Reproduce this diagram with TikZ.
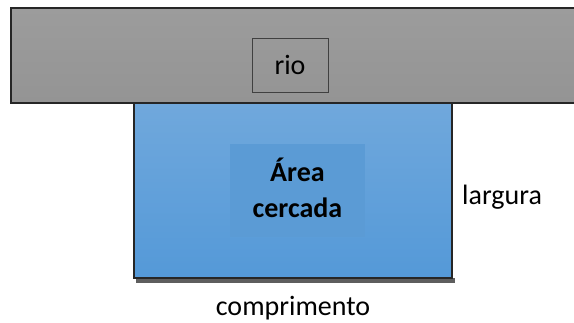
\documentclass[tikz,border=0pt]{standalone}
\usepackage{fontspec}
\setmainfont{Carlito}
\definecolor{riotop}{HTML}{9C9C9C}
\definecolor{riobot}{HTML}{949494}
\definecolor{bluetop}{HTML}{70A8DC}
\definecolor{bluebot}{HTML}{5499D8}
\definecolor{innerblue}{HTML}{5B9BD5}
\definecolor{shadowgray}{HTML}{5E5E5E}
\tikzset{
  lbl/.style={inner sep=0pt, font=\fontsize{28bp}{36bp}\selectfont, text=black},
  edge/.style={draw=black!85, line width=1.2bp}
}
\begin{document}
\begin{tikzpicture}[x=1bp,y=1bp]
\useasboundingbox (0,0) rectangle (574,322);
\begin{scope}
\clip (0,0) rectangle (574,322);
\shade[top color=riotop, bottom color=riobot] (11,314) rectangle (590,219);
\draw[edge] (11,314) rectangle (590,219);
\fill[shadowgray] (136,44) rectangle (455,39);
\shade[top color=bluetop, bottom color=bluebot] (134,219) rectangle (452,44);
\draw[edge] (134,219) rectangle (452,44);
\end{scope}
\node[draw=black!75, line width=0.9bp, minimum width=76bp, minimum height=54bp, inner sep=0pt] (riobox) at (290,257) {};
\node[lbl, anchor=base] (rio) at (290,248) {rio};
\node[fill=innerblue, minimum width=135bp, minimum height=93bp, inner sep=0pt] (inner) at (297.5,131.5) {};
\node[lbl, align=center, font=\fontsize{28bp}{36bp}\selectfont\bfseries] (area) at (297.5,134) {Área\\cercada};
\node[lbl, anchor=base west] (largura) at (462,118) {largura};
\node[lbl, anchor=base] (comp) at (293,7) {comprimento};
\end{tikzpicture}
\end{document}
